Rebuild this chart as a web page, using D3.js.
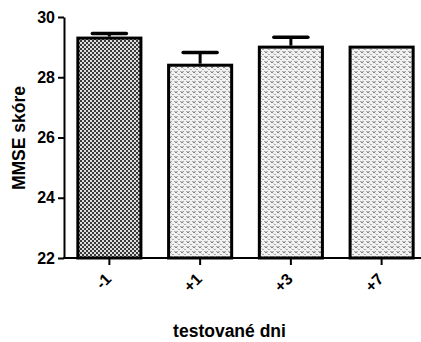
<!DOCTYPE html>
<html><head><meta charset="utf-8">
<script src="https://cdn.jsdelivr.net/npm/d3@7"></script>
<style>body{margin:0;background:#fff}svg{display:block}text{font-family:"Liberation Sans",Arial,sans-serif;font-weight:bold}</style>
</head><body>
<svg id="c" width="421" height="342"></svg>
<script>
const categories = ["-1", "+1", "+3", "+7"];
const means = [29.3, 28.4, 29.0, 29.0];
const errors = [0.15, 0.42, 0.33, 0];
const yTicks = [22, 24, 26, 28, 30];
const patterns = ["checker", "dots", "dots", "dots"];

const svg = d3.select("#c");
const defs = svg.append("defs");
const p1 = defs.append("pattern").attr("id","checker").attr("patternUnits","userSpaceOnUse").attr("width",4).attr("height",4);
p1.append("rect").attr("width",4).attr("height",4).attr("fill","#dcdcdc");
p1.append("rect").attr("width",2).attr("height",2).attr("fill","#3a3a3a");
p1.append("rect").attr("x",2).attr("y",2).attr("width",2).attr("height",2).attr("fill","#3a3a3a");
const p2 = defs.append("pattern").attr("id","dots").attr("patternUnits","userSpaceOnUse").attr("width",6).attr("height",5);
p2.append("rect").attr("width",6).attr("height",5).attr("fill","#f2f2f2");
p2.append("path").attr("d","M0.5,1 L2,3 L3.5,1").attr("fill","none").attr("stroke","#777").attr("stroke-width",1);
p2.append("path").attr("d","M3.5,3.5 L5,5 L6.5,3.5").attr("fill","none").attr("stroke","#999").attr("stroke-width",0.8);

const x = d3.scaleBand().domain(categories).range([64, 427]).paddingInner(0.305).paddingOuter(0.1525);
const y = d3.scaleLinear().domain([22, 30]).range([258, 17]);

// bars
const g = svg.append("g");
g.selectAll("rect.bar").data(categories).join("rect").attr("class","bar")
  .attr("x", d => x(d)).attr("width", x.bandwidth())
  .attr("y", (d,i) => y(means[i])).attr("height", (d,i) => y(22) - y(means[i]))
  .attr("fill", (d,i) => `url(#${patterns[i]})`)
  .attr("stroke", "#000").attr("stroke-width", 3);

// error bars
categories.forEach((c, i) => {
  if (errors[i] <= 0) return;
  const cx = x(c) + x.bandwidth() / 2;
  g.append("line").attr("x1", cx).attr("x2", cx).attr("y1", y(means[i]) - 1.5).attr("y2", y(means[i] + errors[i]))
    .attr("stroke", "#000").attr("stroke-width", 3);
  g.append("line").attr("x1", cx - 17).attr("x2", cx + 17).attr("y1", y(means[i] + errors[i])).attr("y2", y(means[i] + errors[i]))
    .attr("stroke", "#000").attr("stroke-width", 3.5).attr("stroke-linecap","round");
});

// y axis
const ya = svg.append("g").attr("transform", "translate(64,0)")
  .call(d3.axisLeft(y).tickValues(yTicks).tickSize(6).tickSizeOuter(0).tickPadding(3));
ya.select(".domain").attr("stroke-width", 2);
ya.selectAll(".tick line").attr("stroke-width", 2);
ya.selectAll(".tick text").attr("font-size", 16).attr("fill","#000").attr("font-weight","bold").attr("font-family","Liberation Sans, Arial, sans-serif");

// x axis
const xa = svg.append("g").attr("transform", "translate(0,258)")
  .call(d3.axisBottom(x).tickSize(7).tickSizeOuter(0).tickFormat(""));
xa.select(".domain").attr("stroke-width", 2).attr("d", "M63,0H421");
xa.selectAll(".tick line").attr("stroke-width", 2);

svg.append("g").selectAll("text").data(categories).join("text")
  .attr("transform", d => `translate(${x(d) + x.bandwidth()/2 + 3},${280}) rotate(-45)`)
  .attr("text-anchor", "end").attr("font-size", 16).attr("fill","#000")
  .text(d => d);

svg.append("text").attr("transform", "translate(25,138) rotate(-90)")
  .attr("text-anchor","middle").attr("font-size", 17.5).text("MMSE skóre");
svg.append("text").attr("x", 229.5).attr("y", 337)
  .attr("text-anchor","middle").attr("font-size", 17.5).text("testované dni");
</script>
</body></html>
